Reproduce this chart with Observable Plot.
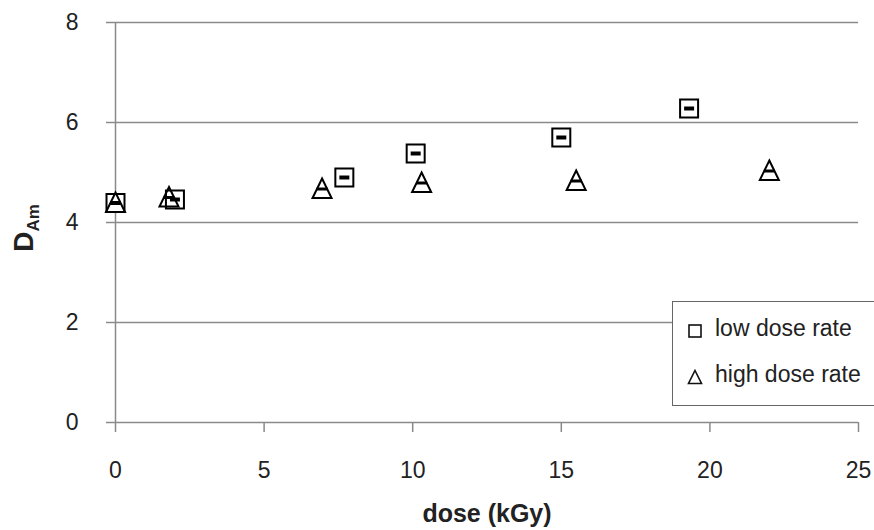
<!DOCTYPE html>
<html>
<head>
<meta charset="utf-8">
<script src="https://cdn.jsdelivr.net/npm/d3@7"></script>
<script src="https://cdn.jsdelivr.net/npm/@observablehq/plot@0.6"></script>
<style>
  html, body { margin: 0; padding: 0; background: #fff; }
  #wrap { position: relative; width: 874px; height: 530px; overflow: hidden; font-family: "Liberation Sans", Arial, sans-serif; }
  #legend { position: absolute; left: 672px; top: 301px; width: 220px; height: 103px; background: #fff; border: 1px solid #666; }
  .li { position: absolute; left: 0; font-size: 23px; color: #222; white-space: nowrap; }
</style>
</head>
<body>
<div id="wrap"></div>
<script>
// ---- data ----
const lowDose = [0, 2.0, 7.7, 10.1, 15.0, 19.3];
const lowDam  = [4.39, 4.46, 4.90, 5.38, 5.70, 6.28];
const highDose = [0, 1.8, 6.95, 10.3, 15.5, 22.0];
const highDam  = [4.39, 4.50, 4.67, 4.79, 4.83, 5.03];
const xTicks = [0, 5, 10, 15, 20, 25];
const yTicks = [0, 2, 4, 6, 8];
const seriesNames = ["low dose rate", "high dose rate"];
const xTitle = "dose (kGy)";

const low = lowDose.map((d, i) => ({dose: d, dam: lowDam[i]}));
const high = highDose.map((d, i) => ({dose: d, dam: highDam[i]}));

// custom marker shapes
const sqOutline = {draw(ctx) { const s = 9; ctx.moveTo(-s, -s); ctx.lineTo(s, -s); ctx.lineTo(s, s); ctx.lineTo(-s, s); ctx.closePath(); }};
const sqBar = {draw(ctx) { ctx.rect(-5, -2, 10, 4); }};
const triOutline = {draw(ctx) { ctx.moveTo(0, -10.5); ctx.lineTo(9.5, 9); ctx.lineTo(-9.5, 9); ctx.closePath(); }};
const triBar = {draw(ctx) { ctx.rect(-5.5, -1.5, 11, 3); }};

const grey = "#8a8a8a";
const fontFam = "Liberation Sans, Arial, sans-serif";

const chart = Plot.plot({
  width: 874,
  height: 530,
  marginLeft: 115,
  marginRight: 16,
  marginTop: 22,
  marginBottom: 108,
  style: {fontFamily: fontFam, background: "#fff"},
  x: {domain: [0, 25]},
  y: {domain: [0, 8]},
  marks: [
    Plot.gridY(yTicks.filter(d => d > 0), {stroke: grey, strokeOpacity: 1, strokeWidth: 1.5}),
    Plot.ruleY([0], {stroke: grey, strokeWidth: 1.5}),
    Plot.ruleX([0], {stroke: grey, strokeWidth: 1.5}),
    Plot.axisY({ticks: yTicks, tickSize: 9, tickPadding: 28, stroke: grey, strokeWidth: 1.5, fontSize: 23, fill: "#222", label: null, tickFormat: d => String(d)}),
    Plot.axisX({ticks: xTicks, tickSize: 10, tickPadding: 29, stroke: grey, strokeWidth: 1.5, fontSize: 23, fill: "#222", label: null, tickFormat: d => String(d)}),
    Plot.dot(low, {x: "dose", y: "dam", symbol: sqOutline, r: 9, fill: "white", stroke: "black", strokeWidth: 2}),
    Plot.dot(low, {x: "dose", y: "dam", symbol: sqBar, r: 5, fill: "black", stroke: "none"}),
    Plot.dot(high, {x: "dose", y: "dam", symbol: triOutline, r: 9, fill: "none", stroke: "black", strokeWidth: 2}),
    Plot.dot(high, {x: "dose", y: "dam", symbol: triBar, r: 5, fill: "black", stroke: "none"})
  ]
});

const svg = d3.select(chart);
// x axis title
svg.append("text")
  .attr("x", 487).attr("y", 522)
  .attr("text-anchor", "middle")
  .attr("font-size", 25).attr("font-weight", "bold")
  .attr("font-family", fontFam).attr("fill", "#222")
  .text(xTitle);
// y axis title D_Am
const yt = svg.append("text")
  .attr("transform", "translate(33,228) rotate(-90)")
  .attr("text-anchor", "middle")
  .attr("font-weight", "bold")
  .attr("font-family", fontFam).attr("fill", "#222");
yt.append("tspan").attr("font-size", 28).text("D");
yt.append("tspan").attr("font-size", 17).attr("dy", 6).text("Am");

document.getElementById("wrap").appendChild(chart);

// legend
const legend = document.createElement("div");
legend.id = "legend";
const items = [
  {name: seriesNames[0], shape: '<rect x="2" y="2" width="12" height="12" fill="none" stroke="#111" stroke-width="1.6"/>', top: 13},
  {name: seriesNames[1], shape: '<path d="M8 1.5 L14.5 14.5 L1.5 14.5 Z" fill="none" stroke="#111" stroke-width="1.6"/>', top: 59}
];
items.forEach(it => {
  const d = document.createElement("div");
  d.className = "li";
  d.style.top = it.top + "px";
  d.innerHTML = '<svg width="16" height="16" style="position:absolute;left:14px;top:8px">' + it.shape + '</svg><span style="position:absolute;left:42px;top:0">' + it.name + '</span>';
  legend.appendChild(d);
});
document.getElementById("wrap").appendChild(legend);
</script>
</body>
</html>
